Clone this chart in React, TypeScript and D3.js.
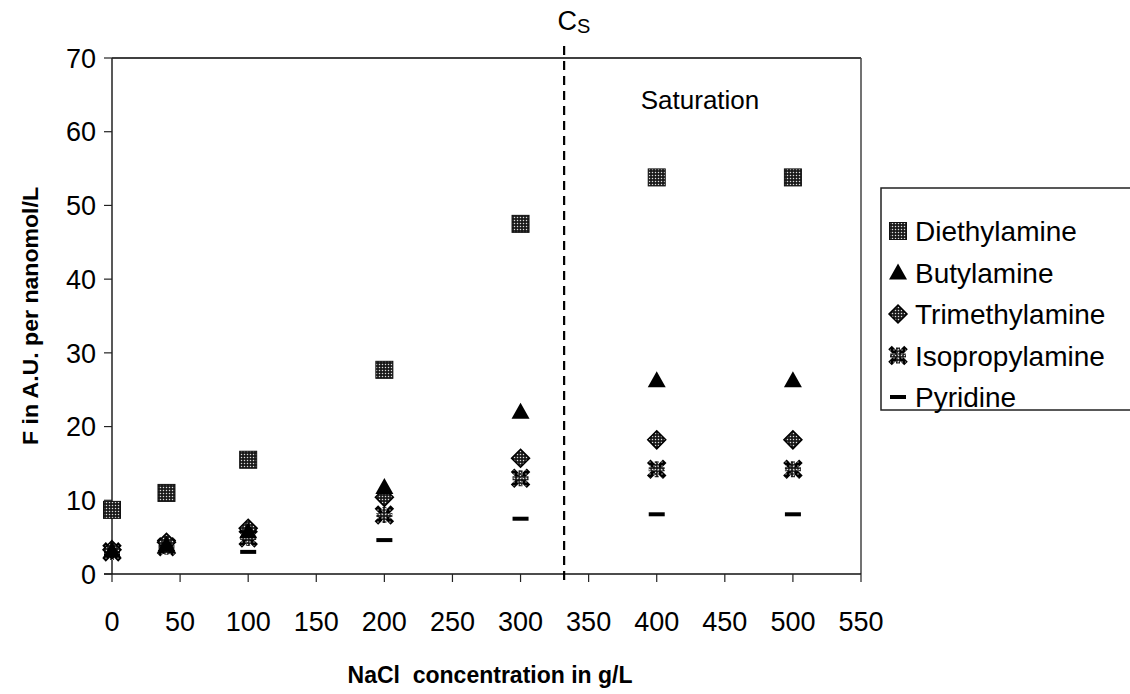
import React from "react";
import * as d3 from "d3";

const xValues = [0, 40, 100, 200, 300, 400, 500];
const diethylamine = [8.7, 11.0, 15.5, 27.7, 47.5, 53.8, 53.8];
const butylamine = [3.2, 4.0, 5.8, 11.8, 22.0, 26.3, 26.3];
const trimethylamine = [3.3, 4.3, 6.2, 10.4, 15.7, 18.2, 18.2];
const isopropylamine = [3.0, 3.7, 4.9, 8.0, 13.0, 14.2, 14.2];
const pyridine = [2.7, 3.0, 3.0, 4.6, 7.5, 8.1, 8.1];
const xTicks = [0, 50, 100, 150, 200, 250, 300, 350, 400, 450, 500, 550];
const yTicks = [0, 10, 20, 30, 40, 50, 60, 70];
const seriesNames = ["Diethylamine", "Butylamine", "Trimethylamine", "Isopropylamine", "Pyridine"];
const saturationX = 332;

const FONT = "'Liberation Sans', Arial, sans-serif";

function Marker({ kind, x, y }: { kind: string; x: number; y: number }) {
  if (kind === "Diethylamine") {
    return <rect x={x - 8.5} y={y - 8.5} width={17} height={17} fill="url(#dots)" stroke="#111" strokeWidth={1} />;
  }
  if (kind === "Butylamine") {
    return <path d={`M${x},${y - 9}L${x + 9},${y + 7}L${x - 9},${y + 7}Z`} fill="#000" />;
  }
  if (kind === "Trimethylamine") {
    return <path d={`M${x},${y - 9}L${x + 9},${y}L${x},${y + 9}L${x - 9},${y}Z`} fill="url(#dots)" stroke="#000" strokeWidth={1.5} />;
  }
  if (kind === "Isopropylamine") {
    return (
      <g>
        <path d={`M${x - 8},${y - 8}L${x + 8},${y + 8}M${x + 8},${y - 8}L${x - 8},${y + 8}`} stroke="#000" strokeWidth={5} />
        <path d={`M${x},${y - 8}L${x},${y + 8}M${x - 8},${y}L${x + 8},${y}`} stroke="url(#dots)" strokeWidth={4} />
        <rect x={x - 8} y={y - 8} width={16} height={16} fill="url(#dotsLight)" />
      </g>
    );
  }
  return <rect x={x - 8} y={y - 2} width={16} height={4} fill="#000" />;
}

export default function App() {
  const width = 1130;
  const height = 694;
  const xScale = d3.scaleLinear().domain([0, 550]).range([112, 861]);
  const yScale = d3.scaleLinear().domain([0, 70]).range([574, 58]);
  const dataBySeries: Record<string, number[]> = {
    Diethylamine: diethylamine,
    Butylamine: butylamine,
    Trimethylamine: trimethylamine,
    Isopropylamine: isopropylamine,
    Pyridine: pyridine,
  };
  const drawOrder = ["Pyridine", "Isopropylamine", "Trimethylamine", "Butylamine", "Diethylamine"];
  const x0 = xScale(0);
  const x1 = xScale(550);
  const yTop = yScale(70);
  const yBot = yScale(0);
  const cs = xScale(saturationX);

  return (
    <svg width={width} height={height} style={{ position: "absolute", left: 0, top: 0, background: "#fff" }} fontFamily={FONT}>
      <defs>
        <pattern id="dots" width={3} height={3} patternUnits="userSpaceOnUse">
          <rect width={3} height={3} fill="#1a1a1a" />
          <circle cx={1.5} cy={1.5} r={0.75} fill="#ddd" />
        </pattern>
        <pattern id="dotsLight" width={4} height={4} patternUnits="userSpaceOnUse">
          <circle cx={2} cy={2} r={0.7} fill="#ccc" />
        </pattern>
      </defs>
      <rect width={width} height={height} fill="#fff" />
      {/* frame */}
      <line x1={x0} x2={x1} y1={yTop} y2={yTop} stroke="#000" strokeWidth={1.5} />
      <line x1={x1} x2={x1} y1={yTop} y2={yBot} stroke="#444" strokeWidth={1.5} />
      <line x1={x0} x2={x0} y1={yTop} y2={yBot} stroke="#222" strokeWidth={1.5} />
      <line x1={x0 - 8} x2={x1} y1={yBot} y2={yBot} stroke="#111" strokeWidth={1.5} />
      {yTicks.map((t) => (
        <g key={"y" + t}>
          <line x1={x0 - 8} x2={x0} y1={yScale(t)} y2={yScale(t)} stroke="#222" strokeWidth={1.2} />
          <text x={x0 - 16} y={yScale(t)} dy="0.36em" textAnchor="end" fontSize={27}>{t}</text>
        </g>
      ))}
      {xTicks.map((t) => (
        <g key={"x" + t}>
          <line x1={xScale(t)} x2={xScale(t)} y1={yBot} y2={yBot + 8} stroke="#222" strokeWidth={1.2} />
          <text x={xScale(t)} y={621} dy="0.36em" textAnchor="middle" fontSize={27}>{t}</text>
        </g>
      ))}
      {/* saturation line */}
      <line x1={cs} x2={cs} y1={46} y2={580} stroke="#000" strokeWidth={2.2} strokeDasharray="9,6" />
      <text x={574} y={30} textAnchor="middle" fontSize={27}>C<tspan fontSize={20} dy={3}>S</tspan></text>
      <text x={700} y={100} dy="0.36em" textAnchor="middle" fontSize={26}>Saturation</text>
      {/* markers */}
      {drawOrder.map((name) => (
        <g key={name}>
          {dataBySeries[name].map((v, i) => (
            <Marker key={i} kind={name} x={xScale(xValues[i])} y={yScale(v)} />
          ))}
        </g>
      ))}
      {/* axis titles */}
      <text x={490} y={675} dy="0.36em" textAnchor="middle" fontSize={23} fontWeight="bold">NaCl{"\u00a0\u00a0"}concentration in g/L</text>
      <text transform={`translate(30,316) rotate(-90)`} dy="0.36em" textAnchor="middle" fontSize={22} fontWeight="bold" textLength={258} lengthAdjust="spacingAndGlyphs">F in A.U. per nanomol/L</text>
      {/* legend */}
      <rect x={881} y={188} width={260} height={222} fill="none" stroke="#222" strokeWidth={1.5} />
      {seriesNames.map((name, i) => {
        const cy = 231 + i * 41.5;
        return (
          <g key={name}>
            <Marker kind={name} x={898} y={cy} />
            <text x={915} y={cy} dy="0.36em" fontSize={28}>{name}</text>
          </g>
        );
      })}
    </svg>
  );
}
